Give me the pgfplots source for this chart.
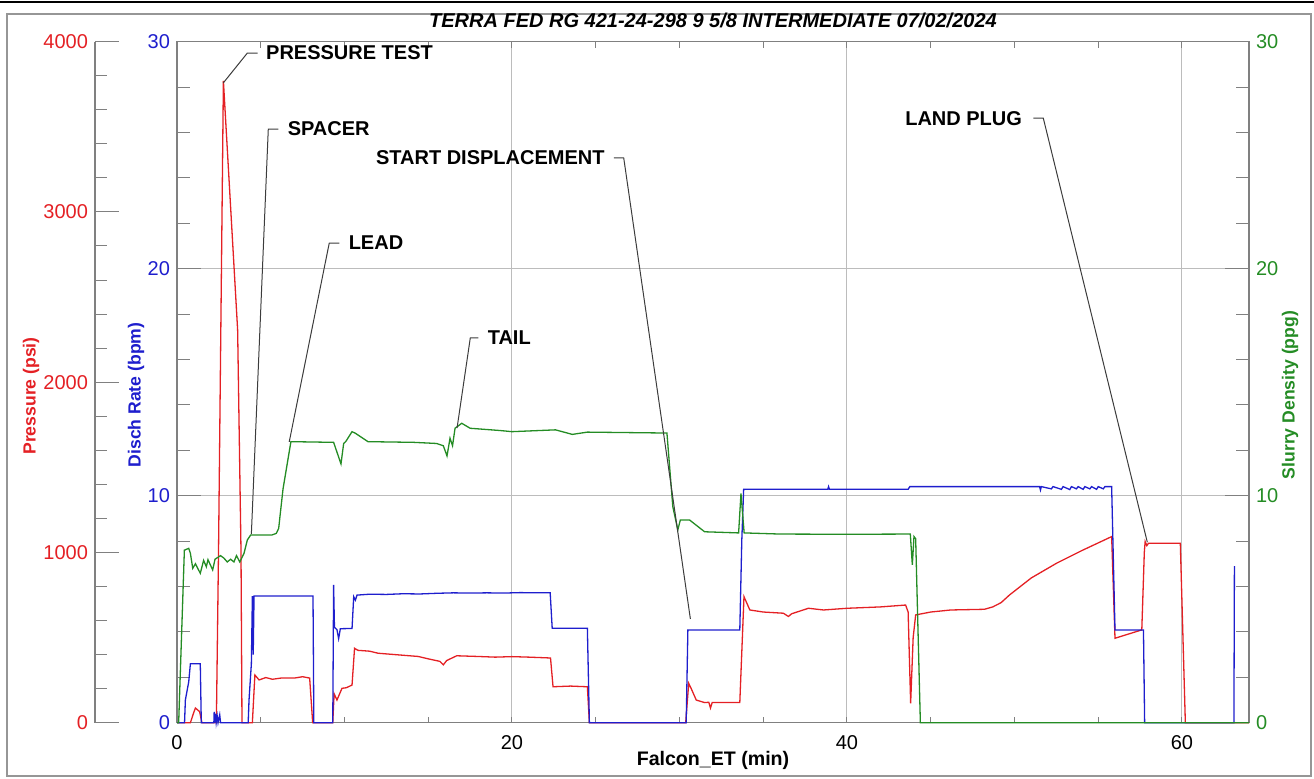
\documentclass[border=0pt]{standalone}
\usepackage{pgfplots}
\pgfplotsset{compat=1.18}
\usepackage{fontspec}
\setmainfont{Liberation Sans}
\definecolor{cred}{RGB}{228,32,36}
\definecolor{cblue}{RGB}{30,30,205}
\definecolor{cgreen}{RGB}{36,140,36}
\definecolor{axgray}{RGB}{128,128,128}
\definecolor{gridgray}{RGB}{188,188,188}
\definecolor{framegray}{RGB}{150,150,150}
\definecolor{leadgray}{RGB}{60,60,60}
\tikzset{
  anno/.style={font=\bfseries\fontsize{10}{12}\selectfont, inner sep=0pt},
  leader/.style={draw=leadgray, line width=0.5pt},
}
\begin{document}
\begin{tikzpicture}
\useasboundingbox (0,0) rectangle (657pt,389.5pt);
\draw[line width=0.8pt, black] (0,388.5pt) -- (657pt,388.5pt);
\draw[line width=0.7pt, framegray] (3.5pt,1.5pt) rectangle (655.5pt,382.5pt);

\pgfplotsset{
  base/.style={scale only axis, width=536pt, height=340.5pt,
    at={(88.5pt,28.15pt)}, anchor=south west,
    xmin=0, xmax=64, ymin=0, ymax=30,
    /pgf/number format/assume math mode=true,
    tick label style={font=\fontsize{10}{12}\selectfont}},
  data/.style={base, hide axis, clip=false},
}

% pressure ruler
\begin{axis}[scale only axis, width=41pt, height=340.5pt,
  at={(47.5pt,28.15pt)}, anchor=south west,
  xmin=0, xmax=1, ymin=0, ymax=4000,
  axis x line=none, axis y line=left,
  ytick={0,1000,2000,3000,4000}, minor y tick num=4,
  tick align=inside, major tick length=12pt, minor tick length=6pt,
  y axis line style={draw=axgray, line width=0.6pt, -},
  every tick/.style={draw=axgray, line width=0.5pt},
  yticklabel style={text=cred, font=\fontsize{10}{12}\selectfont},
  /pgf/number format/assume math mode=true,
  /pgf/number format/1000 sep={}]
\end{axis}

% frame, grid, ticks
\begin{axis}[base,
  xtick={0,20,40,60}, minor xtick={5,10,15,25,30,35,45,50,55},
  ytick={0,10,20,30}, minor ytick={2,4,6,8,12,14,16,18,22,24,26,28},
  yticklabel pos=left, xticklabel pos=bottom,
  tick align=inside,
  major tick length=12pt, minor tick length=6.5pt,
  x tick style={/pgfplots/major tick length=3pt, /pgfplots/minor tick length=3pt},
  grid=major,
  major grid style={draw=gridgray, line width=0.5pt},
  axis line style={draw=axgray, line width=0.6pt},
  every tick/.style={draw=axgray, line width=0.5pt},
  yticklabel style={text=cblue},
  xticklabel style={yshift=-3pt}]
\end{axis}

% pressure data
\begin{axis}[data, ymax=4000]
\addplot[cred, line width=0.65pt] coordinates {
(0,0) (0.8,0) (1.0,60) (1.1,86) (1.35,65) (1.49,0) (2.35,0) (2.48,1015)
(2.77,3770) (3.62,2307) (3.82,1015) (3.88,0) (4.5,0) (4.58,150) (4.65,280)
(4.9,251) (5.3,265)
(5.7,255) (6.2,262) (7.0,262) (7.5,270) (7.92,262) (8.1,0) (9.3,0)
(9.38,170) (9.55,133) (9.85,202) (10.1,205) (10.45,221) (10.6,437)
(10.8,425) (11.5,420) (12.0,408) (13.0,400) (14.4,389) (15.0,375)
(15.7,360) (15.9,340) (16.1,365) (16.7,393) (17.95,389) (19.0,385)
(20.0,388) (21.0,385) (22.3,380) (22.45,211) (23.5,215) (24.5,211)
(24.62,0) (30.37,0) (30.55,231) (30.7,200) (31.0,133) (31.5,118)
(31.75,120) (31.85,86) (31.95,118) (33.6,118) (33.85,740) (34.2,662)
(35.0,650) (36.2,643) (36.5,624) (36.7,640) (37.7,672) (38.6,662)
(40.0,672) (42.0,680) (43.5,691) (43.65,650) (43.8,114) (43.95,500)
(44.1,633) (45.0,650) (46.2,662) (48.2,666) (48.7,680) (49.2,705)
(49.7,750) (51.0,850) (52.5,936) (54.0,1010) (55.8,1093) (56.0,496)
(57.6,545) (57.75,1000) (57.8,1064) (57.9,1040) (58.0,1054) (59.9,1054)
(60.2,0) (64,0)};
\end{axis}

% rate data
\begin{axis}[data]
\addplot[cblue, line width=0.65pt] coordinates {
(0,0) (0.45,0) (0.5,1.0) (0.7,1.8) (0.8,2.6) (1.39,2.6) (1.45,0) (2.2,0)
(2.22,0.48) (2.26,0) (2.3,0.4) (2.34,0) (2.4,0.3) (2.45,0) (2.55,0.35)
(2.6,0) (4.25,0) (4.3,1.0) (4.44,2.6) (4.5,5.58) (4.55,3.0) (4.6,5.58)
(8.12,5.58) (8.17,0) (9.3,0) (9.35,6.07) (9.4,4.2) (9.55,4.1) (9.65,3.7)
(9.75,4.14) (10.45,4.15) (10.55,5.55) (10.65,5.4) (10.75,5.62)
(11.5,5.66) (12.5,5.65) (13.5,5.68) (14.5,5.67) (15.5,5.7) (16.5,5.72)
(17.5,5.71) (18.5,5.72) (19.5,5.71) (20.5,5.73) (21.5,5.72) (22.28,5.72)
(22.4,4.16) (24.5,4.16) (24.62,0) (30.4,0) (30.5,4.08) (33.6,4.08)
(33.72,8.05) (33.83,10.28) (38.85,10.28) (38.9,10.4) (38.95,10.28)
(43.65,10.28) (43.75,10.4) (51.5,10.4) (51.55,10.25) (51.6,10.4)
(52.2,10.3) (52.3,10.4) (52.8,10.28) (52.9,10.4) (53.3,10.27) (53.4,10.4)
(53.7,10.3) (53.8,10.4) (54.1,10.28) (54.2,10.4) (54.5,10.3) (54.6,10.4)
(54.9,10.28) (55.0,10.4) (55.3,10.3) (55.4,10.4) (55.8,10.4) (56.0,4.08)
(57.7,4.08) (57.77,0) (63.1,0) (63.13,6.9)};
\end{axis}

% density data, right axis, annotations
\begin{axis}[base, hide x axis, axis y line*=right, clip=false,
  ytick={0,10,20,30}, major tick length=0pt, minor tick length=0pt,
  y axis line style={draw=none},
  yticklabel style={text=cgreen}]
\addplot[cgreen, line width=0.65pt] coordinates {
(0,0) (0.1,0) (0.44,7.6) (0.7,7.68) (0.8,7.46) (0.94,6.8) (1.1,7.0)
(1.39,6.58) (1.59,7.15) (1.75,6.87) (1.85,7.18) (2.13,6.73) (2.27,7.2)
(2.6,7.36) (2.8,7.25) (3.0,7.08) (3.2,7.2) (3.4,7.08) (3.55,7.36)
(3.75,7.08) (4.0,7.46) (4.2,8.05) (4.4,8.27) (5.67,8.27) (5.93,8.34)
(6.07,8.56) (6.33,10.3) (6.8,12.38) (9.35,12.35) (9.79,11.4) (9.95,12.3)
(10.07,12.38) (10.45,12.82) (10.65,12.75) (11.4,12.38) (14.13,12.35)
(15.5,12.3) (15.9,12.2) (16.12,11.75) (16.3,12.53) (16.45,12.2)
(16.6,12.97) (17.0,13.19) (17.5,12.97) (19.3,12.87) (20.0,12.82)
(22.6,12.9) (23.6,12.7) (24.5,12.8) (29.25,12.76) (29.6,9.52) (29.9,8.49)
(30.05,8.93) (30.6,8.93) (31.5,8.41) (33.53,8.36) (33.67,10.1)
(33.86,8.36) (36,8.31) (40,8.3) (43.78,8.31) (43.9,6.95) (44.0,8.2)
(44.1,8.1) (44.38,0) (64,0)};
\draw[leader] (4.82,29.5) -- (4.2,29.5) -- (2.76,28.18);
\node[anno, anchor=west] at (5.3,29.5) {PRESSURE TEST};
\draw[leader] (6.05,26.15) -- (5.45,26.15) -- (4.44,8.31);
\node[anno, anchor=west] at (6.59,26.15) {SPACER};
\draw[leader] (9.69,21.13) -- (9.09,21.13) -- (6.7,12.37);
\node[anno, anchor=west] at (10.23,21.13) {LEAD};
\draw[leader] (17.99,16.95) -- (17.51,16.95) -- (16.72,12.98);
\node[anno, anchor=west] at (18.53,16.95) {TAIL};
\draw[leader] (26.08,24.88) -- (26.67,24.88) -- (30.65,4.57);
\node[anno, anchor=east] at (25.55,24.88) {START DISPLACEMENT};
\draw[leader] (51.12,26.63) -- (51.72,26.63) -- (57.93,7.95);
\node[anno, anchor=east] at (50.47,26.63) {LAND PLUG};
\end{axis}

\node[rotate=90, text=cred, font=\bfseries\fontsize{8.8}{10}\selectfont] at (15.5pt,191.5pt) {Pressure (psi)};
\node[rotate=90, text=cblue, font=\bfseries\fontsize{8.8}{10}\selectfont] at (68pt,192pt) {Disch Rate (bpm)};
\node[rotate=90, text=cgreen, font=\bfseries\fontsize{8.8}{10}\selectfont] at (645pt,192pt) {Slurry Density (ppg)};
\node[font=\bfseries\fontsize{9.8}{11}\selectfont] at (356.5pt,9.5pt) {Falcon\_ET (min)};
\node[font=\bfseries\itshape\fontsize{10}{12}\selectfont] at (356.5pt,379.5pt) {TERRA FED RG 421-24-298 9 5/8 INTERMEDIATE 07/02/2024};
\end{tikzpicture}
\end{document}
